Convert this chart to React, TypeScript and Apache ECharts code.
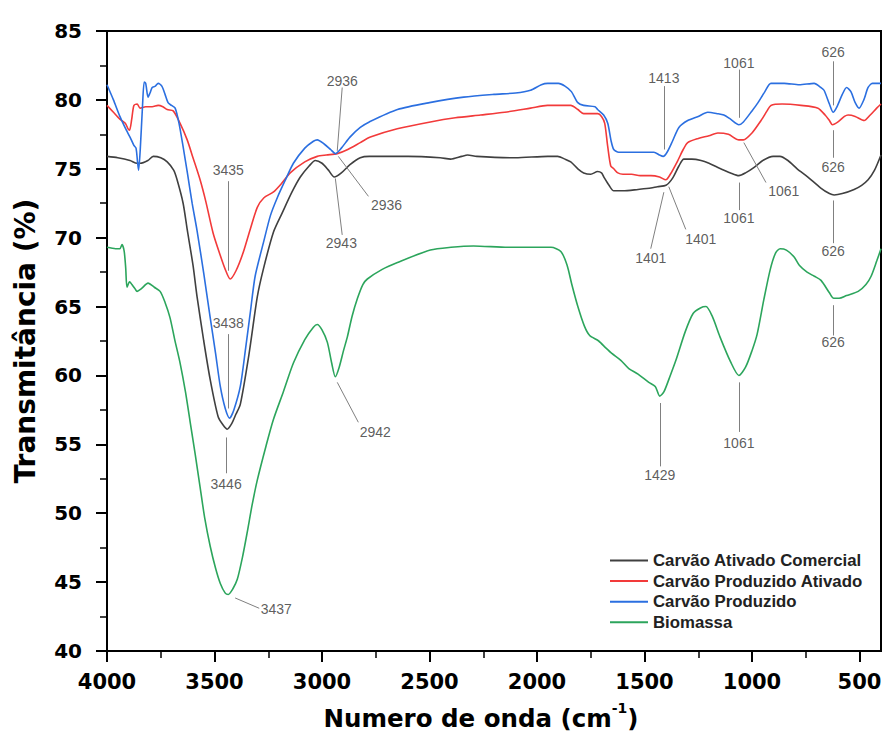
import React, { useEffect, useRef } from "react";
import * as echarts from "echarts";

const seriesNames = [
  "Carvão Ativado Comercial",
  "Carvão Produzido Ativado",
  "Carvão Produzido",
  "Biomassa",
];
const seriesColors = ["#404040", "#f23a3a", "#2b6fe0", "#2ca55c"];

const xTickValues = [4000, 3500, 3000, 2500, 2000, 1500, 1000, 500];
const xMinorTickValues = [3750, 3250, 2750, 2250, 1750, 1250, 750];

const comercial = [
  [4000, 75.9], [3950, 75.8], [3893, 75.6], [3860, 75.4], [3846, 75.4], [3810, 75.6], [3785, 75.9],
  [3750, 75.8], [3720, 75.5], [3690, 74.9], [3674, 74.2], [3646, 72.5], [3627, 70.6], [3600, 68.0],
  [3581, 65.7], [3550, 62.5], [3520, 59.7], [3483, 57.0], [3460, 56.4], [3441, 56.1], [3420, 56.5],
  [3400, 57.2], [3380, 57.9], [3340, 61.5], [3301, 65.7], [3273, 67.7], [3226, 70.4], [3185, 71.8],
  [3140, 73.3], [3101, 74.4], [3060, 75.2], [3031, 75.6], [3000, 75.4], [2970, 74.9], [2943, 74.4],
  [2910, 74.7], [2870, 75.3], [2822, 75.8], [2780, 75.9], [2600, 75.9], [2450, 75.8], [2402, 75.7],
  [2350, 75.9], [2323, 76.0], [2280, 75.9], [2100, 75.8], [1950, 75.9], [1904, 75.9], [1870, 75.7],
  [1843, 75.5], [1810, 75.0], [1783, 74.7], [1750, 74.6], [1718, 74.8], [1700, 74.7], [1689, 74.4],
  [1665, 73.8], [1643, 73.4], [1600, 73.4], [1530, 73.5], [1470, 73.6], [1440, 73.7], [1400, 73.8],
  [1370, 74.3], [1340, 75.2], [1317, 75.7], [1280, 75.7], [1237, 75.6], [1200, 75.4], [1159, 75.1],
  [1100, 74.7], [1061, 74.5], [1030, 74.7], [990, 75.1], [950, 75.6], [902, 75.9], [870, 75.9],
  [833, 75.6], [790, 75.0], [740, 74.4], [680, 73.6], [640, 73.2], [618, 73.1], [580, 73.2],
  [525, 73.5], [490, 73.8], [460, 74.2], [430, 74.9], [400, 76.0],
];

const produzidoAtivado = [
  [4000, 79.6], [3970, 79.1], [3940, 78.6], [3915, 78.3], [3902, 77.9], [3895, 77.8], [3885, 78.6],
  [3875, 79.6], [3860, 79.7], [3846, 79.4], [3820, 79.5], [3790, 79.5], [3762, 79.6], [3740, 79.5],
  [3720, 79.3], [3692, 79.2], [3660, 78.3], [3627, 77.1], [3600, 75.8], [3567, 74.2], [3540, 72.6],
  [3506, 70.3], [3475, 68.8], [3450, 67.7], [3427, 67.0], [3400, 67.6], [3367, 68.9], [3334, 70.6],
  [3301, 72.2], [3270, 72.9], [3227, 73.3], [3190, 73.9], [3148, 74.7], [3080, 75.5], [3022, 75.9],
  [2980, 76.0], [2929, 76.1], [2880, 76.4], [2822, 76.9], [2775, 77.3], [2650, 77.9], [2496, 78.4],
  [2380, 78.7], [2263, 78.9], [2150, 79.1], [2030, 79.4], [1951, 79.6], [1880, 79.6], [1843, 79.6],
  [1810, 79.3], [1783, 79.0], [1718, 79.0], [1700, 78.8], [1685, 78.3], [1671, 76.6], [1657, 75.2],
  [1643, 75.0], [1624, 74.7], [1600, 74.6], [1560, 74.6], [1520, 74.5], [1470, 74.5], [1430, 74.4],
  [1401, 74.2], [1380, 74.6], [1345, 75.6], [1320, 76.4], [1299, 76.9], [1250, 77.2], [1200, 77.4],
  [1159, 77.6], [1110, 77.5], [1061, 77.1], [1040, 77.1], [1000, 77.6], [958, 78.5], [930, 79.2],
  [912, 79.6], [860, 79.7], [772, 79.6], [693, 79.4], [660, 78.9], [640, 78.5], [626, 78.2],
  [600, 78.4], [570, 78.8], [553, 78.9], [520, 78.8], [478, 78.5], [450, 78.9], [420, 79.4], [400, 79.7],
];

const produzido = [
  [4000, 81.1], [3970, 80.0], [3940, 78.8], [3910, 77.8], [3893, 77.3], [3875, 76.7], [3865, 76.5],
  [3858, 75.5], [3853, 74.9], [3845, 76.5], [3835, 79.5], [3827, 81.3], [3820, 81.2], [3809, 80.2],
  [3800, 80.5], [3790, 80.9], [3775, 81.0], [3762, 81.2], [3745, 81.0], [3730, 80.4], [3716, 79.8],
  [3700, 79.6], [3683, 79.4], [3665, 78.3], [3646, 76.6], [3625, 74.6], [3604, 72.5], [3581, 70.5],
  [3550, 67.4], [3520, 64.2], [3495, 61.6], [3473, 59.2], [3450, 57.6], [3430, 56.9], [3410, 57.5],
  [3380, 59.2], [3355, 62.0], [3334, 64.5], [3311, 67.2], [3273, 69.6], [3240, 71.6], [3208, 72.9],
  [3170, 74.2], [3133, 75.4], [3080, 76.5], [3040, 77.0], [3022, 77.1], [2990, 76.8], [2960, 76.4],
  [2938, 76.1], [2910, 76.5], [2870, 77.3], [2822, 78.0], [2780, 78.4], [2649, 79.3], [2500, 79.8],
  [2341, 80.2], [2200, 80.4], [2100, 80.5], [2030, 80.7], [1980, 81.1], [1950, 81.2], [1900, 81.2],
  [1870, 81.0], [1840, 80.6], [1810, 79.8], [1783, 79.6], [1730, 79.5], [1718, 79.3], [1690, 78.9],
  [1671, 78.3], [1655, 77.0], [1643, 76.4], [1620, 76.2], [1564, 76.2], [1500, 76.2], [1456, 76.2],
  [1430, 76.0], [1413, 75.9], [1395, 76.2], [1370, 77.0], [1340, 78.0], [1299, 78.5], [1250, 78.8],
  [1206, 79.1], [1160, 79.0], [1131, 78.9], [1100, 78.6], [1061, 78.2], [1040, 78.4], [1000, 79.2],
  [972, 79.8], [940, 80.6], [912, 81.2], [850, 81.2], [780, 81.1], [711, 81.2], [680, 80.9],
  [665, 80.7], [640, 79.7], [623, 79.1], [605, 79.5], [580, 80.4], [560, 80.9], [540, 80.6],
  [520, 79.8], [502, 79.4], [480, 80.0], [460, 80.9], [440, 81.2], [400, 81.2],
];

const biomassa = [
  [4000, 69.3], [3960, 69.2], [3940, 69.2], [3930, 69.5], [3920, 69.0], [3913, 67.8], [3907, 66.4],
  [3895, 66.8], [3884, 66.6], [3870, 66.3], [3860, 66.1], [3840, 66.3], [3809, 66.7], [3780, 66.4],
  [3753, 66.1], [3730, 65.3], [3707, 64.2], [3685, 62.6], [3660, 60.9], [3635, 58.8], [3613, 56.6],
  [3590, 54.3], [3567, 51.9], [3545, 49.6], [3520, 47.6], [3495, 46.0], [3473, 44.9], [3450, 44.2],
  [3436, 44.1], [3415, 44.5], [3394, 45.2], [3370, 46.8], [3348, 48.6], [3325, 50.6], [3301, 52.4],
  [3260, 54.9], [3226, 56.8], [3180, 58.8], [3133, 60.9], [3080, 62.6], [3040, 63.5], [3022, 63.7],
  [3000, 63.3], [2975, 62.4], [2955, 60.9], [2938, 59.9], [2920, 60.6], [2900, 61.8], [2882, 62.8],
  [2860, 64.3], [2835, 65.6], [2810, 66.6], [2789, 67.0], [2720, 67.7], [2649, 68.2], [2496, 69.1],
  [2400, 69.3], [2295, 69.4], [2136, 69.3], [1935, 69.3], [1889, 69.0], [1860, 68.0], [1838, 66.6],
  [1810, 65.0], [1780, 63.6], [1755, 62.9], [1713, 62.5], [1680, 62.0], [1652, 61.6], [1610, 61.1],
  [1573, 60.5], [1530, 60.1], [1480, 59.5], [1450, 59.2], [1429, 58.5], [1410, 58.8], [1380, 60.0],
  [1354, 61.1], [1310, 63.2], [1274, 64.5], [1240, 64.9], [1214, 65.0], [1185, 64.3], [1149, 62.8],
  [1100, 61.0], [1061, 60.0], [1030, 60.6], [1000, 61.8], [976, 63.0], [945, 65.5], [915, 67.7],
  [890, 68.9], [869, 69.2], [840, 69.1], [804, 68.6], [780, 68.0], [744, 67.5], [710, 67.2],
  [679, 66.9], [640, 66.0], [620, 65.6], [595, 65.6], [560, 65.8], [506, 66.1], [470, 66.6],
  [446, 67.2], [420, 68.3], [400, 69.2],
];

// peak annotations: label text, text position [x, y], leader line [x1, y1, x2, y2]
const annoTexts = [
  "3435", "3438", "3446", "3437", "2942", "2943", "2936", "2936", "1413", "1401",
  "1401", "1061", "1061", "1061", "626", "626", "626", "626", "1429", "1061",
];
const annoTextPos = [
  [3436, 74.9], [3436, 63.8], [3446, 52.1], [3213, 43.05], [2752, 55.9], [2910, 69.6],
  [2906, 81.4], [2700, 72.4], [1410, 81.6], [1238, 69.9], [1471, 68.5], [1061, 82.7],
  [852, 73.4], [1061, 71.4], [623, 83.5], [623, 75.1], [623, 69.0], [623, 62.4],
  [1429, 52.8], [1061, 55.1],
];
const annoLines = [
  [3436, 74.1, 3436, 67.6], [3436, 63.0, 3436, 57.6], [3446, 55.5, 3446, 52.9],
  [3404, 43.85, 3292, 43.1], [2929, 59.5, 2831, 56.6], [2938, 74.3, 2906, 70.2],
  [2906, 80.9, 2929, 76.3], [2924, 75.9, 2784, 73.0], [1410, 81.0, 1410, 76.4],
  [1387, 73.7, 1308, 70.6], [1410, 73.3, 1471, 69.2], [1061, 82.2, 1061, 78.7],
  [1038, 76.9, 935, 74.0], [1061, 74.0, 1061, 72.0], [623, 82.8, 623, 79.6],
  [623, 77.8, 623, 75.8], [623, 72.7, 623, 69.6], [623, 65.1, 623, 62.9],
  [1429, 58.0, 1429, 53.4], [1061, 59.5, 1061, 55.9],
];

const seriesData = [comercial, produzidoAtivado, produzido, biomassa];

export default function App() {
  const ref = useRef<HTMLDivElement>(null);

  useEffect(() => {
    document.body.style.margin = "0";
    if (!ref.current) return;
    const chart = echarts.init(ref.current, undefined, { renderer: "svg" });

    const lineSeries = seriesNames.map((name, i) => ({
      name,
      type: "line",
      data: seriesData[i],
      symbol: "none",
      showSymbol: false,
      smooth: 0.25,
      lineStyle: { color: seriesColors[i], width: 1.6 },
      itemStyle: { color: seriesColors[i] },
      z: 3,
    }));

    const option = {
      animation: false,
      backgroundColor: "#fff",
      grid: {
        left: 107,
        right: 6,
        top: 31,
        bottom: 98,
        containLabel: false,
        outerBoundsMode: "none",
        show: true,
        borderColor: "#000",
        borderWidth: 2,
        backgroundColor: "transparent",
      },
      xAxis: [
        {
          type: "value",
          min: 400,
          max: 4000,
          inverse: true,
          axisLine: { show: true, onZero: false, lineStyle: { color: "#000", width: 2 } },
          axisTick: { show: true, customValues: xTickValues, length: 11, lineStyle: { color: "#000", width: 2 } },
          axisLabel: {
            customValues: xTickValues,
            formatter: (v: number) => String(v),
            margin: 20,
            fontFamily: "DejaVu Sans",
            fontWeight: "bold",
            fontSize: 21,
            color: "#000",
          },
          splitLine: { show: false },
        },
        {
          type: "value",
          min: 400,
          max: 4000,
          inverse: true,
          position: "bottom",
          axisLine: { show: false },
          axisTick: { show: true, customValues: xMinorTickValues, length: 7, lineStyle: { color: "#000", width: 1.5 } },
          axisLabel: { show: false },
          splitLine: { show: false },
        },
      ],
      yAxis: {
        type: "value",
        min: 40,
        max: 85,
        interval: 5,
        name: "Transmitância (%)",
        nameLocation: "middle",
        nameGap: 68,
        nameTextStyle: {
          fontFamily: "DejaVu Sans",
          fontWeight: "bold",
          fontSize: 28,
          color: "#000",
        },
        axisLine: { show: true, onZero: false, lineStyle: { color: "#000", width: 2 } },
        axisTick: { show: true, length: 11, lineStyle: { color: "#000", width: 2 } },
        minorTick: { show: true, splitNumber: 2, length: 7, lineStyle: { color: "#000", width: 1.5 } },
        axisLabel: {
          margin: 25,
          fontFamily: "DejaVu Sans",
          fontWeight: "bold",
          fontSize: 20,
          color: "#000",
        },
        splitLine: { show: false },
        minorSplitLine: { show: false },
      },
      legend: {
        data: seriesNames,
        orient: "vertical",
        left: 610,
        top: 552,
        padding: 0,
        icon: "rect",
        itemWidth: 38,
        itemHeight: 2,
        itemGap: 3.6,
        textStyle: {
          fontFamily: "Liberation Sans",
          fontWeight: "bold",
          fontSize: 16.8,
          lineHeight: 16,
          color: "#222",
        },
      },
      graphic: [
        {
          type: "text",
          x: 481,
          y: 718,
          style: {
            text: "{a|Numero de onda (cm}{s|-1}{a|)}",
            align: "center",
            verticalAlign: "middle",
            rich: {
              a: { fontFamily: "DejaVu Sans", fontWeight: "bold", fontSize: 24.5, color: "#000", lineHeight: 34 },
              s: { fontFamily: "DejaVu Sans", fontWeight: "bold", fontSize: 14, color: "#000", verticalAlign: "top", lineHeight: 34, padding: [0, 0, 14, 0] },
            },
          },
        },
      ],
      series: [
        ...lineSeries,
        {
          name: "anotacoes",
          type: "scatter",
          data: annoTextPos.map((p, i) => [p[0], p[1], annoTexts[i]]),
          symbolSize: 1,
          itemStyle: { color: "rgba(0,0,0,0)" },
          silent: true,
          z: 5,
          label: {
            show: true,
            position: "inside",
            formatter: (p: any) => p.value[2],
            fontFamily: "Liberation Sans",
            fontSize: 14,
            color: "#333",
          },
          markLine: {
            silent: true,
            symbol: ["none", "none"],
            label: { show: false },
            lineStyle: { color: "#808080", width: 1, type: "solid" },
            emphasis: { disabled: true },
            data: annoLines.map((l) => [{ coord: [l[0], l[1]] }, { coord: [l[2], l[3]] }]),
          },
        },
      ],
    };

    chart.setOption(option as any);
    return () => chart.dispose();
  }, []);

  return <div ref={ref} style={{ width: 887, height: 749 }} />;
}
